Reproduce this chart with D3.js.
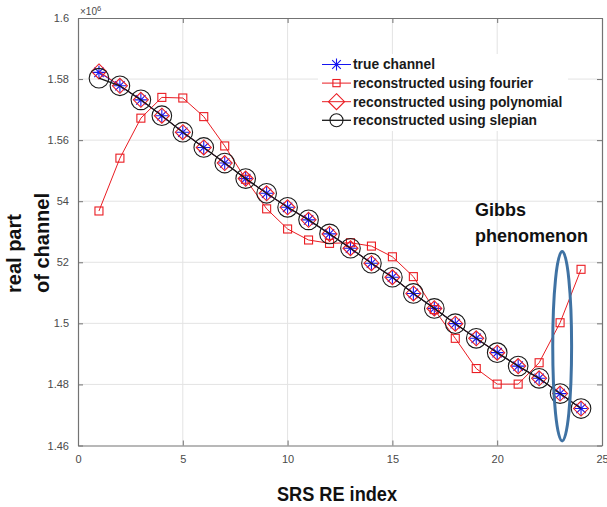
<!DOCTYPE html>
<html>
<head>
<meta charset="utf-8">
<script src="https://cdn.jsdelivr.net/npm/d3@7"></script>
<style>
  html, body { margin: 0; padding: 0; background: #fff; }
  svg { display: block; }
</style>
</head>
<body>
<svg id="chart" width="607" height="507"></svg>
<script>
// SRS RE index (subcarrier positions)
const reIndex = d3.range(1, 25);

// Real part of channel, in units of 1e6
const trueChannel = [1.5822, 1.5778, 1.5732, 1.5680, 1.5626, 1.5576, 1.5525, 1.5474,
  1.5426, 1.5380, 1.5339, 1.5293, 1.5246, 1.5197, 1.5151, 1.5098,
  1.5049, 1.4999, 1.4951, 1.4904, 1.4860, 1.4820, 1.4770, 1.4721];
const fourierRecon = [1.5368, 1.5541, 1.5672, 1.5740, 1.5738, 1.5677, 1.5581, 1.5472,
  1.5375, 1.5309, 1.5273, 1.5262, 1.5264, 1.5253, 1.5218, 1.5153,
  1.5045, 1.4951, 1.4852, 1.4801, 1.4801, 1.4871, 1.5002, 1.5177];
const polyRecon = [1.5825, 1.5778, 1.5732, 1.5680, 1.5626, 1.5576, 1.5525, 1.5474,
  1.5426, 1.5380, 1.5339, 1.5293, 1.5246, 1.5197, 1.5151, 1.5098,
  1.5049, 1.4999, 1.4951, 1.4904, 1.4860, 1.4820, 1.4770, 1.4721];
const slepianRecon = [1.5803, 1.5778, 1.5732, 1.5680, 1.5626, 1.5576, 1.5525, 1.5474,
  1.5426, 1.5380, 1.5339, 1.5293, 1.5246, 1.5197, 1.5151, 1.5098,
  1.5049, 1.4999, 1.4951, 1.4904, 1.4860, 1.4820, 1.4770, 1.4721];

const seriesNames = ["true channel", "reconstructed using fourier",
  "reconstructed using polynomial", "reconstructed using slepian"];

// Axis ticks and their printed labels
const xTicks = [0, 5, 10, 15, 20, 25];
const yTicks = [1.46, 1.48, 1.50, 1.52, 1.54, 1.56, 1.58, 1.60];
const yTickLabels = ["1.46", "1.48", "1.5", "52", "54", "1.56", "1.58", "1.6"];

// Gibbs annotation: ellipse centre / half-extents in data units
const gibbsCenter = [23.1, 1.4925];
const gibbsHalf = [0.45, 0.031];
const gibbsLines = ["Gibbs", "phenomenon"];

const svg = d3.select("#chart");
const x = d3.scaleLinear().domain([0, 25]).range([78, 602]);
const y = d3.scaleLinear().domain([1.46, 1.6]).range([445.5, 18]);
const plotLeft = x.range()[0], plotRight = x.range()[1];
const plotTop = y.range()[1], plotBottom = y.range()[0];

const axisColor = "#737373";
const tickTextColor = "#4a4a4a";

// plot background
svg.append("rect").attr("x", plotLeft).attr("y", plotTop)
  .attr("width", plotRight - plotLeft).attr("height", plotBottom - plotTop).attr("fill", "#fff");

// grid
const grid = svg.append("g").attr("stroke", "#e3e3e3").attr("stroke-width", 1);
grid.selectAll(".gx").data(xTicks.slice(1, -1)).join("line")
  .attr("x1", d => x(d)).attr("x2", d => x(d)).attr("y1", plotTop).attr("y2", plotBottom);
grid.selectAll(".gy").data(yTicks.slice(1, -1)).join("line")
  .attr("x1", plotLeft).attr("x2", plotRight).attr("y1", d => y(d)).attr("y2", d => y(d));

// axes (ticks point inward, box on all sides)
const fmtY = d => yTickLabels[yTicks.indexOf(d)];
const axisStyle = g => {
  g.selectAll("path").attr("stroke", axisColor);
  g.selectAll("line").attr("stroke", axisColor);
  g.selectAll("text").attr("fill", tickTextColor)
    .attr("font-family", "Liberation Sans, Arial, sans-serif").attr("font-size", 11);
};
svg.append("g").attr("transform", `translate(0,${plotBottom})`)
  .call(d3.axisBottom(x).tickValues(xTicks).tickSizeInner(-5).tickSizeOuter(0).tickPadding(10))
  .call(axisStyle);
svg.append("g").attr("transform", `translate(0,${plotTop})`)
  .call(d3.axisTop(x).tickValues(xTicks).tickSizeInner(-5).tickSizeOuter(0).tickFormat(""))
  .call(axisStyle);
svg.append("g").attr("transform", `translate(${plotLeft},0)`)
  .call(d3.axisLeft(y).tickValues(yTicks).tickFormat(fmtY).tickSizeInner(-5).tickSizeOuter(0).tickPadding(9))
  .call(axisStyle);
svg.append("g").attr("transform", `translate(${plotRight},0)`)
  .call(d3.axisRight(y).tickValues(yTicks).tickSizeInner(-5).tickSizeOuter(0).tickFormat(""))
  .call(axisStyle);
svg.selectAll(".domain").attr("stroke-width", 1.2);

// exponent marker
const expo = svg.append("text").attr("x", plotLeft + 2).attr("y", 15)
  .attr("font-family", "Liberation Sans, Arial, sans-serif").attr("font-size", 10)
  .attr("fill", tickTextColor);
expo.append("tspan").text("\u00d710");
expo.append("tspan").attr("dy", -4).attr("font-size", 7.5).text("6");

// marker shapes
function drawMarker(g, type, cx, cy, s) {
  if (type === "star") {
    const d = s * 0.72;
    g.append("path").attr("d",
      `M${cx - s},${cy}L${cx + s},${cy}M${cx},${cy - s}L${cx},${cy + s}` +
      `M${cx - d},${cy - d}L${cx + d},${cy + d}M${cx - d},${cy + d}L${cx + d},${cy - d}`)
      .attr("stroke", "#1515f0").attr("stroke-width", 1.1).attr("fill", "none");
  } else if (type === "square") {
    g.append("rect").attr("x", cx - s).attr("y", cy - s).attr("width", 2 * s).attr("height", 2 * s)
      .attr("stroke", "#ea1c22").attr("stroke-width", 1.1).attr("fill", "none");
  } else if (type === "diamond") {
    g.append("path").attr("d", `M${cx},${cy - s}L${cx + s},${cy}L${cx},${cy + s}L${cx - s},${cy}Z`)
      .attr("stroke", "#ea1c22").attr("stroke-width", 1.1).attr("fill", "none");
  } else if (type === "circle") {
    g.append("circle").attr("cx", cx).attr("cy", cy).attr("r", s)
      .attr("stroke", "#1a1a1a").attr("stroke-width", 1.1).attr("fill", "none");
  }
}

const series = [
  { values: trueChannel, color: "#1515f0", width: 1, marker: "star", size: 6.5, legendSize: 6 },
  { values: fourierRecon, color: "#ea1c22", width: 1, marker: "square", size: 4, legendSize: 3.6 },
  { values: polyRecon, color: "#ea1c22", width: 1, marker: "diamond", size: 7.5, legendSize: 8 },
  { values: slepianRecon, color: "#1a1a1a", width: 1.3, marker: "circle", size: 9.8, legendSize: 6.5 }
];

const line = d3.line().x((d, i) => x(reIndex[i])).y(d => y(d));
const plot = svg.append("g");
series.forEach(s => {
  const g = plot.append("g");
  g.append("path").datum(s.values).attr("d", line)
    .attr("fill", "none").attr("stroke", s.color).attr("stroke-width", s.width);
  s.values.forEach((v, i) => drawMarker(g, s.marker, x(reIndex[i]), y(v), s.size));
});

// legend
const lg = svg.append("g");
lg.append("rect").attr("x", 318).attr("y", 54).attr("width", 250).attr("height", 77).attr("fill", "#fff");
series.forEach((s, i) => {
  const cy = 64.5 + i * 18.6;
  lg.append("line").attr("x1", 322).attr("x2", 351).attr("y1", cy).attr("y2", cy)
    .attr("stroke", s.color).attr("stroke-width", s.width);
  drawMarker(lg, s.marker, 336.5, cy, s.legendSize);
  lg.append("text").attr("x", 353).attr("y", cy + 4.9).text(seriesNames[i])
    .attr("font-family", "Liberation Sans, Arial, sans-serif").attr("font-weight", "bold")
    .attr("font-size", 13.8).attr("fill", "#1a1a1a");
});

// Gibbs annotation
svg.append("ellipse")
  .attr("cx", x(gibbsCenter[0])).attr("cy", y(gibbsCenter[1]))
  .attr("rx", x(gibbsCenter[0] + gibbsHalf[0]) - x(gibbsCenter[0]))
  .attr("ry", y(gibbsCenter[1] - gibbsHalf[1]) - y(gibbsCenter[1]))
  .attr("fill", "none").attr("stroke", "#3f72a3").attr("stroke-width", 3);
svg.append("g").selectAll("text").data(gibbsLines).join("text")
  .attr("x", 475).attr("y", (d, i) => 216 + i * 26)
  .attr("font-family", "Liberation Sans, Arial, sans-serif").attr("font-weight", "bold")
  .attr("font-size", 18).attr("fill", "#111").text(d => d);

// axis titles
svg.append("text").attr("x", (plotLeft + plotRight) / 2 - 3).attr("y", 501)
  .attr("text-anchor", "middle").attr("textLength", 120).attr("lengthAdjust", "spacingAndGlyphs")
  .attr("font-family", "Liberation Sans, Arial, sans-serif").attr("font-weight", "bold")
  .attr("font-size", 21).attr("fill", "#111").text("SRS RE index");
const yl = svg.append("g").attr("font-family", "Liberation Sans, Arial, sans-serif")
  .attr("font-weight", "bold").attr("font-size", 20).attr("fill", "#111");
yl.append("text").attr("transform", "translate(21,293) rotate(-90)").text("real part");
yl.append("text").attr("transform", "translate(49,293) rotate(-90)").text("of channel");
</script>
</body>
</html>
